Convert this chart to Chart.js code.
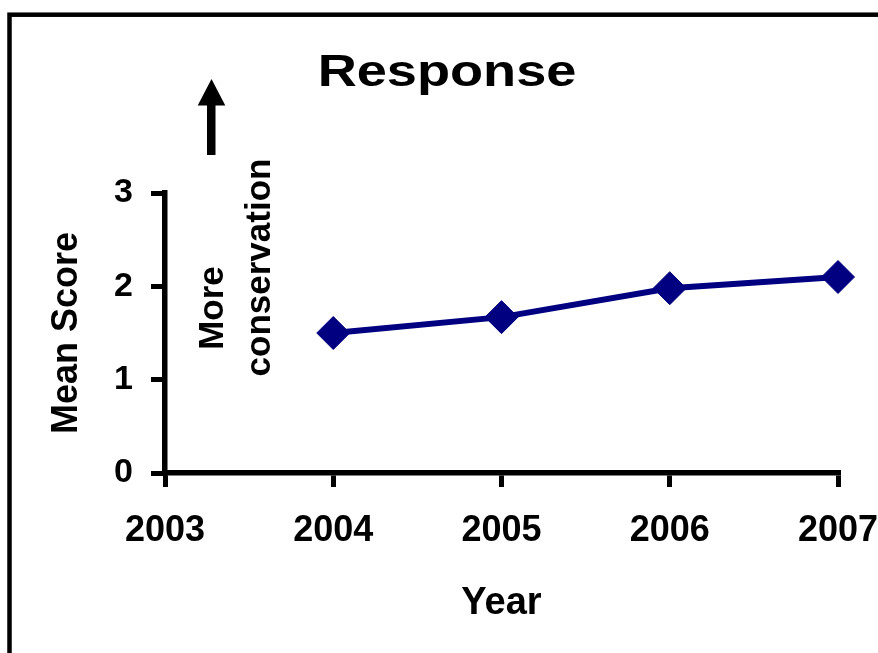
<!DOCTYPE html>
<html>
<head>
<meta charset="utf-8">
<script src="https://cdn.jsdelivr.net/npm/chart.js@4/dist/chart.umd.min.js"></script>
<style>
  html, body { margin: 0; padding: 0; background: #fff; }
  #wrap { position: relative; width: 878px; height: 653px; }
</style>
</head>
<body>
<div id="wrap"><canvas id="chart" width="878" height="653"></canvas></div>
<script>
// Survey years on the x axis (2003 is the baseline year, no score)
const categories = ['2003', '2004', '2005', '2006', '2007'];
// Mean response score per year
const meanScore = [null, 1.50, 1.67, 1.98, 2.10];
// Y axis range
const yTicks = [0, 1, 2, 3];

const chartTitle = 'Response';
const noteLines = ['More', 'conservation'];

const FONT = '"Liberation Sans", Arial, Helvetica, sans-serif';

// Outer frame, heading, arrow and side note
const decorations = {
  id: 'decorations',
  beforeDraw(chart) {
    const ctx = chart.ctx;
    ctx.save();
    ctx.fillStyle = '#ffffff';
    ctx.fillRect(0, 0, chart.width, chart.height);
    ctx.restore();
  },
  afterDraw(chart) {
    const ctx = chart.ctx;
    ctx.save();
    // frame (runs off the right and bottom edges)
    ctx.strokeStyle = '#000';
    ctx.lineWidth = 4.5;
    ctx.strokeRect(9.5, 14.7, 1000, 1000);

    // heading
    ctx.fillStyle = '#000';
    ctx.font = 'bold 44px ' + FONT;
    ctx.textAlign = 'center';
    ctx.textBaseline = 'alphabetic';
    ctx.save();
    ctx.translate(447, 86);
    ctx.scale(1.23, 1);
    ctx.fillText(chartTitle, 0, 0);
    ctx.restore();

    // upward arrow
    ctx.beginPath();
    ctx.moveTo(211.5, 79);
    ctx.lineTo(225.3, 105.5);
    ctx.lineTo(197.7, 105.5);
    ctx.closePath();
    ctx.fill();
    ctx.fillRect(207, 104, 8.5, 51);

    // rotated note
    ctx.font = 'bold 35px ' + FONT;
    ctx.textAlign = 'center';
    ctx.textBaseline = 'alphabetic';
    const notePos = [[223, 308], [270, 267.5]];
    noteLines.forEach((t, i) => {
      ctx.save();
      ctx.translate(notePos[i][0], notePos[i][1]);
      ctx.rotate(-Math.PI / 2);
      ctx.fillText(t, 0, 0);
      ctx.restore();
    });
    ctx.restore();
  }
};

new Chart(document.getElementById('chart'), {
  type: 'line',
  data: {
    labels: categories,
    datasets: [{
      label: 'Mean Score',
      data: meanScore,
      borderColor: '#000080',
      backgroundColor: '#000080',
      borderWidth: 6,
      pointStyle: 'rectRot',
      pointRadius: 16.5,
      pointHoverRadius: 16.5,
      pointBackgroundColor: '#000080',
      pointBorderColor: '#000080',
      pointBorderWidth: 1,
      tension: 0,
      clip: false
    }]
  },
  options: {
    responsive: false,
    animation: false,
    events: [],
    layout: { padding: { top: 193, left: 0, right: 0, bottom: 0 } },
    plugins: {
      legend: { display: false },
      title: { display: false },
      tooltip: { enabled: false }
    },
    scales: {
      x: {
        type: 'category',
        offset: false,
        afterFit(scale) {
          scale.height = 180;
          scale.paddingRight = 40;
        },
        grid: {
          display: true,
          drawOnChartArea: false,
          drawTicks: true,
          tickLength: 14,
          lineWidth: 5,
          color: '#000'
        },
        border: { display: true, color: '#000', width: 5.5 },
        ticks: {
          color: '#000',
          font: { family: FONT, size: 36, weight: 'bold' },
          padding: 22,
          maxRotation: 0,
          autoSkip: false
        },
        title: {
          display: true,
          text: 'Year',
          color: '#000',
          font: { family: FONT, size: 38, weight: 'bold' },
          padding: { top: 0, bottom: 27 }
        }
      },
      y: {
        min: yTicks[0],
        max: yTicks[yTicks.length - 1],
        afterFit(scale) { scale.width = 165; },
        afterBuildTicks(scale) { scale.ticks = yTicks.map(v => ({ value: v })); },
        grid: {
          display: true,
          drawOnChartArea: false,
          drawTicks: true,
          tickLength: 14,
          lineWidth: 5,
          color: '#000'
        },
        border: { display: true, color: '#000', width: 5.5 },
        ticks: {
          color: '#000',
          font: { family: FONT, size: 34, weight: 'bold' },
          padding: 18
        },
        title: {
          display: true,
          text: 'Mean Score',
          color: '#000',
          font: { family: FONT, size: 36, weight: 'bold' },
          padding: { top: 45, bottom: 0 }
        }
      }
    }
  },
  plugins: [decorations]
});
</script>
</body>
</html>
